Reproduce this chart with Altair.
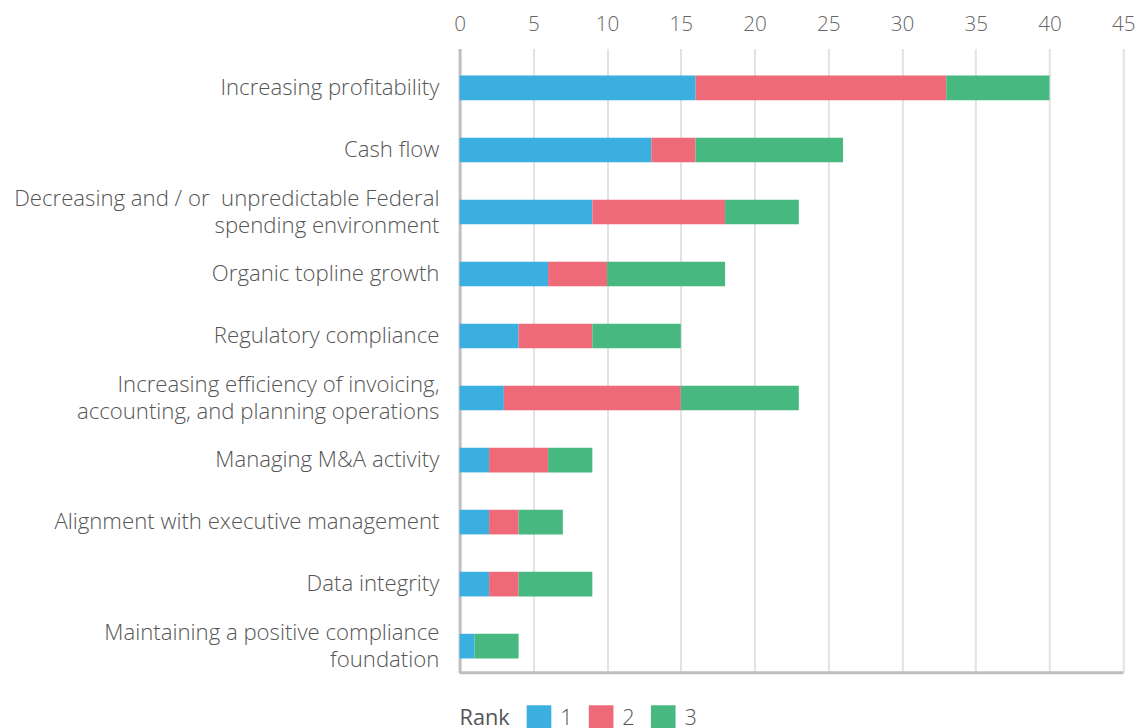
import altair as alt
import pandas as pd

categories = [
    "Increasing profitability",
    "Cash flow",
    "Decreasing and / or\u00a0 unpredictable Federal|spending environment",
    "Organic topline growth",
    "Regulatory compliance",
    "Increasing efficiency of invoicing,|accounting, and planning operations",
    "Managing M&A activity",
    "Alignment with executive management",
    "Data integrity",
    "Maintaining a positive compliance|foundation",
]
rank1 = [16, 13, 9, 6, 4, 3, 2, 2, 2, 1]
rank2 = [17, 3, 9, 4, 5, 12, 4, 2, 2, 0]
rank3 = [7, 10, 5, 8, 6, 8, 3, 3, 5, 3]
ranks = ["1", "2", "3"]
colors = ["#3AAFE0", "#EE6A78", "#47B980"]

rows = []
for i, c in enumerate(categories):
    for r, vals in zip(ranks, [rank1, rank2, rank3]):
        rows.append({"category": c, "rank": r, "value": vals[i], "order": int(r)})
df = pd.DataFrame(rows)

font = "Open Sans"

chart = alt.Chart(df).mark_bar(size=25).encode(
    y=alt.Y("category:N", sort=categories, title=None,
            scale=alt.Scale(paddingInner=0.6, paddingOuter=0.332, align=0.655, round=False),
            axis=alt.Axis(labelExpr="split(datum.label, '|')", labelFontSize=22.5,
                          labelColor="#555555", labelFont=font, labelFontWeight=300,
                          labelPadding=21, ticks=False, domainColor="#bfbfbf",
                          domainWidth=3, labelLimit=460, labelLineHeight=27,
                          minExtent=451, maxExtent=451,
                          labelOffset=alt.condition("indexof(datum.label, '|') >= 0",
                                                    alt.value(-13), alt.value(0)))),
    x=alt.X("value:Q", title=None,
            scale=alt.Scale(domain=[0, 45], nice=False),
            axis=alt.Axis(orient="top", values=list(range(0, 50, 5)), ticks=False,
                          domain=False, labelFontSize=21, labelColor="#666666",
                          labelFont=font, labelFontWeight=300, labelPadding=14.5,
                          minExtent=31, maxExtent=31,
                          gridColor="#e2e2e2", gridWidth=2, labelFlush=False)),
    color=alt.Color("rank:N", scale=alt.Scale(domain=ranks, range=colors),
                    legend=alt.Legend(title="Rank", orient="bottom", direction="horizontal",
                                      titleOrient="left", titleFontSize=22,
                                      titleFont=font, titleFontWeight=400,
                                      titleColor="#555555", labelFontSize=22,
                                      labelFont=font, labelFontWeight=300,
                                      labelColor="#555555", symbolType="square",
                                      symbolSize=625, symbolStrokeWidth=0,
                                      symbolOpacity=1, columnPadding=16, labelOffset=9,
                                      titlePadding=17, offset=33)),
    order=alt.Order("order:Q"),
)

bottom = alt.Chart(pd.DataFrame({"v": [0]})).mark_rule(color="#bfbfbf", strokeWidth=3).encode(
    x=alt.value(0), x2=alt.value(673), y=alt.value(633)
)

final = (alt.layer(chart, bottom)
         .properties(width=673, height=633,
                     padding={"top": 0, "left": 5, "right": 5, "bottom": 0})
         .configure_view(stroke=None))
final.save("out.html", embed_options={"renderer": "svg", "actions": False})
